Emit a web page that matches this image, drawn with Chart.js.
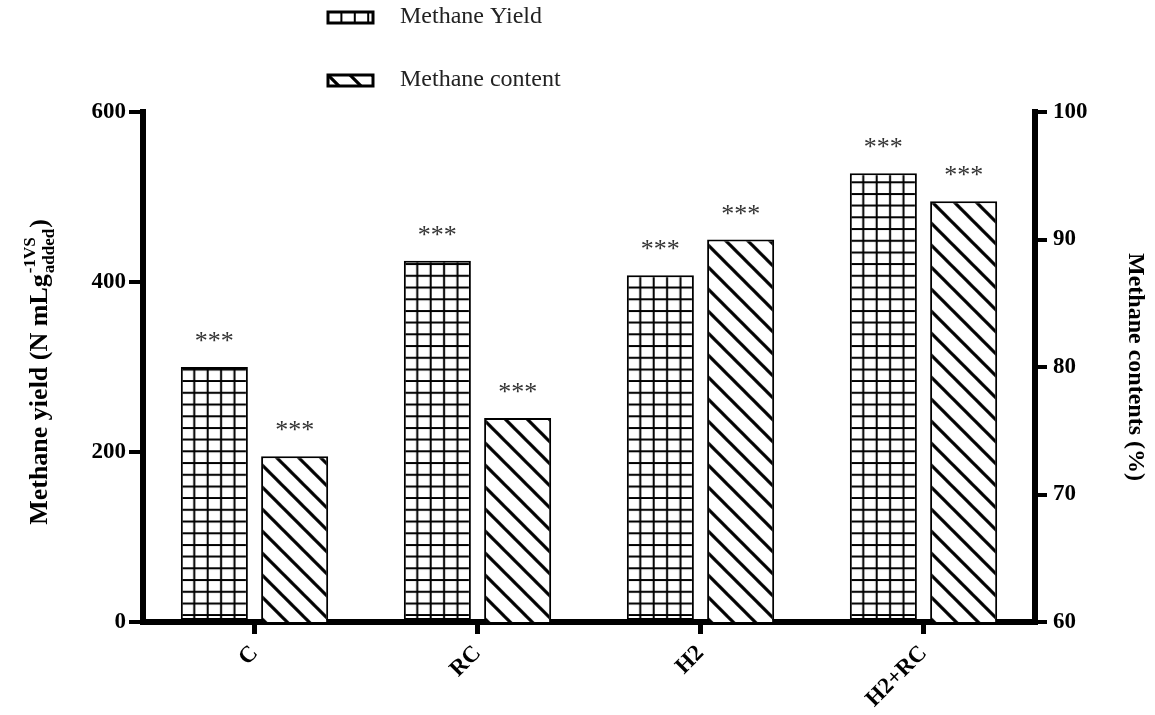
<!DOCTYPE html>
<html>
<head>
<meta charset="utf-8">
<script src="https://cdn.jsdelivr.net/npm/chart.js@4"></script>
<style>
  body { margin: 0; background: #fff; }
  canvas { display: block; }
</style>
</head>
<body>
<canvas id="chart" width="1155" height="715"></canvas>
<script>
// data
const categories = ['C', 'RC', 'H2', 'H2+RC'];
const methaneYield = [300, 425, 408, 528];
const methaneContent = [73, 76, 90, 93];
const yieldTicks = [0, 200, 400, 600];
const contentTicks = [60, 70, 80, 90, 100];
const yieldMarks = ['***', '***', '***', '***'];
const contentMarks = ['***', '***', '***', '***'];

const serif = "'Liberation Serif', 'Times New Roman', serif";

// grid pattern (5 cells across one bar)
function makeGrid() {
    const c = document.createElement('canvas');
    c.width = 67; c.height = 117;
    const g = c.getContext('2d');
    g.fillStyle = '#fff';
    g.fillRect(0, 0, c.width, c.height);
    g.strokeStyle = '#000';
    g.lineWidth = 2;
    g.beginPath();
    for (let i = 0; i <= 5; i++) {
        g.moveTo(i * 13.4, 0); g.lineTo(i * 13.4, 117);
    }
    for (let j = 0; j <= 10; j++) {
        g.moveTo(0, j * 11.7); g.lineTo(67, j * 11.7);
    }
    g.stroke();
    return c;
}

// diagonal hatch "\"
function makeHatch() {
    const c = document.createElement('canvas');
    c.width = 22; c.height = 22;
    const g = c.getContext('2d');
    g.fillStyle = '#fff';
    g.fillRect(0, 0, 22, 22);
    g.strokeStyle = '#000';
    g.lineWidth = 3.2;
    g.beginPath();
    // run past the tile edges so the lines join up when repeated
    [-22, 0, 22].forEach(x0 => { g.moveTo(x0 - 6, -6); g.lineTo(x0 + 28, 28); });
    g.stroke();
    return c;
}

const gridTile = makeGrid();
const hatchTile = makeHatch();
const ctx = document.getElementById('chart').getContext('2d');

function patternAt(tile, x, y) {
    const p = ctx.createPattern(tile, 'repeat');
    if (p.setTransform) p.setTransform(new DOMMatrix().translate(x, y));
    return p;
}

const CAT_PCT = 0.72, BAR_PCT = 0.835;

// line the pattern up with each bar's left edge
function barFill(tile, side) {
    return function (c) {
        const xs = c.chart.scales.x;
        if (!xs || c.dataIndex === undefined) return patternAt(tile, 0, 0);
        const slot = (xs.width / categories.length) * CAT_PCT / 2;
        const w = slot * BAR_PCT;
        const left = xs.getPixelForValue(c.dataIndex) + (side < 0 ? -slot : 0) + (slot - w) / 2;
        return patternAt(tile, left, c.chart.chartArea ? c.chart.chartArea.top : 0);
    };
}

const extras = {
    id: 'extras',
    afterDatasetsDraw(chart) {
        const g = chart.ctx;
        // significance stars
        g.save();
        g.font = '26px ' + serif;
        g.fillStyle = '#333';
        g.textAlign = 'center';
        g.textBaseline = 'alphabetic';
        [yieldMarks, contentMarks].forEach((marks, di) => {
            chart.getDatasetMeta(di).data.forEach((bar, i) => {
                g.fillText(marks[i], bar.x, bar.y - 18);
            });
        });
        g.restore();
    },
    afterDraw(chart) {
        const g = chart.ctx;
        // legend
        g.save();
        const rows = [
            { tile: gridTile, label: chart.data.datasets[0].label, y: 12 },
            { tile: hatchTile, label: chart.data.datasets[1].label, y: 75 }
        ];
        rows.forEach(r => {
            g.fillStyle = patternAt(r.tile, 328, r.y);
            g.fillRect(328, r.y, 45, 11);
            g.lineWidth = 3;
            g.strokeStyle = '#000';
            g.strokeRect(328, r.y, 45, 11);
            g.fillStyle = '#222';
            g.font = '24px ' + serif;
            g.textBaseline = 'middle';
            g.textAlign = 'left';
            g.fillText(r.label, 400, r.y + 5);
        });
        g.restore();

        // left axis title with super/subscript
        g.save();
        g.translate(38, 372);
        g.rotate(-Math.PI / 2);
        g.fillStyle = '#000';
        g.textBaseline = 'alphabetic';
        g.textAlign = 'left';
        const big = 'bold 26px ' + serif, small = 'bold 17px ' + serif;
        const main = 'Methane yield (N mLg', sup = '-1VS', sub = 'added', end = ')';
        g.font = big; const wMain = g.measureText(main).width, wEnd = g.measureText(end).width;
        g.font = small; const wSup = g.measureText(sup).width, wSub = g.measureText(sub).width;
        const total = wMain + Math.max(wSup, wSub) + 2 + wEnd;
        let x = -total / 2;
        const base = 9;
        g.font = big; g.fillText(main, x, base); x += wMain + 1;
        g.font = small; g.fillText(sup, x, base - 12); g.fillText(sub, x, base + 7);
        x += Math.max(wSup, wSub) + 1;
        g.font = big; g.fillText(end, x, base);
        g.restore();
    }
};

const tickFont = { family: serif, size: 23, weight: 'bold' };

new Chart(ctx, {
    type: 'bar',
    data: {
        labels: categories,
        datasets: [{
            label: 'Methane Yield',
            data: methaneYield,
            yAxisID: 'y',
            backgroundColor: barFill(gridTile, -1),
            borderColor: '#000',
            borderWidth: 2,
            borderSkipped: false
        }, {
            label: 'Methane content',
            data: methaneContent,
            yAxisID: 'y1',
            backgroundColor: barFill(hatchTile, 1),
            borderColor: '#000',
            borderWidth: 2,
            borderSkipped: false
        }]
    },
    options: {
        responsive: false,
        animation: false,
        devicePixelRatio: 1,
        categoryPercentage: CAT_PCT,
        barPercentage: BAR_PCT,
        layout: { padding: { top: 112, left: 0, right: 0, bottom: 0 } },
        plugins: {
            legend: { display: false },
            tooltip: { enabled: false }
        },
        events: [],
        scales: {
            x: {
                offset: true,
                afterFit: s => { s.height = 93; },
                grid: { offset: false, drawOnChartArea: false, color: '#000', lineWidth: 5, tickLength: 12 },
                border: { color: '#000', width: 6 },
                ticks: { color: '#000', font: tickFont, maxRotation: 45, minRotation: 45, padding: 6 }
            },
            y: {
                position: 'left',
                min: 0, max: 600,
                afterFit: s => { s.width = 143; },
                afterBuildTicks: s => { s.ticks = yieldTicks.map(v => ({ value: v })); },
                grid: { drawOnChartArea: false, color: '#000', lineWidth: 4, tickLength: 14 },
                border: { color: '#000', width: 6 },
                ticks: { color: '#000', font: tickFont, padding: 3 }
            },
            y1: {
                position: 'right',
                min: 60, max: 100,
                afterFit: s => { s.width = 120; },
                afterBuildTicks: s => { s.ticks = contentTicks.map(v => ({ value: v })); },
                grid: { drawOnChartArea: false, color: '#000', lineWidth: 4, tickLength: 12 },
                border: { color: '#000', width: 6 },
                ticks: { color: '#000', font: tickFont, padding: 6 },
                title: {
                    display: true,
                    text: 'Methane contents (%)',
                    color: '#000',
                    font: { family: serif, size: 24, weight: 'bold' },
                    padding: 5
                }
            }
        }
    },
    plugins: [extras]
});
</script>
</body>
</html>
